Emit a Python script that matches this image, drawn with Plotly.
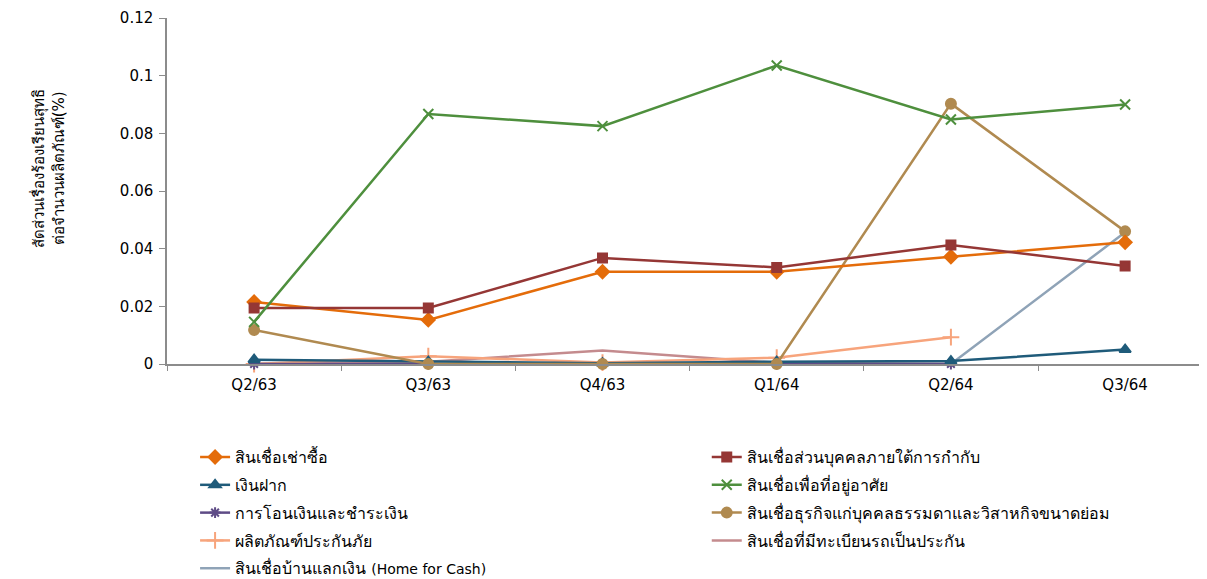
import plotly.graph_objects as go

quarters = ["Q2/63", "Q3/63", "Q4/63", "Q1/64", "Q2/64", "Q3/64"]

hire_purchase = [0.0215, 0.0153, 0.0320, 0.0320, 0.0372, 0.0422]
personal_loan = [0.0194, 0.0194, 0.0368, 0.0335, 0.0413, 0.0340]
deposit = [0.0015, 0.0008, 0.0003, 0.0008, 0.0010, 0.0050]
housing_loan = [0.0146, 0.0867, 0.0825, 0.1035, 0.0848, 0.0900]
transfer_payment = [0.0, 0.0, 0.0, 0.0, 0.0, None]
sme_loan = [0.0118, 0.0, 0.0, 0.0, 0.0903, 0.0460]
insurance = [0.0, 0.0027, 0.0005, 0.0022, 0.0093, None]
car_title_loan = [0.0, 0.0008, 0.0047, 0.0004, 0.0, None]
home_for_cash = [0.0, 0.0, 0.0, 0.0, 0.0, 0.0457]

names = [
    "สินเชื่อเช่าซื้อ",
    "สินเชื่อส่วนบุคคลภายใต้การกำกับ",
    "เงินฝาก",
    "สินเชื่อเพื่อที่อยู่อาศัย",
    "การโอนเงินและชำระเงิน",
    "สินเชื่อธุรกิจแก่บุคคลธรรมดาและวิสาหกิจขนาดย่อม",
    "ผลิตภัณฑ์ประกันภัย",
    "สินเชื่อที่มีทะเบียนรถเป็นประกัน",
    "สินเชื่อบ้านแลกเงิน (Home for Cash)",
]
series = [hire_purchase, personal_loan, deposit, housing_loan, transfer_payment,
          sme_loan, insurance, car_title_loan, home_for_cash]
colors = ["#E46C0A", "#953735", "#1F5B7A", "#4E8F3D", "#5E4B86",
          "#B08A50", "#F7A47C", "#C48B8E", "#8FA3B7"]
symbols = ["diamond", "square", "triangle-up", "x-thin", "asterisk-open",
           "circle", "cross-thin", None, None]
sizes = [10, 9, 10, 10, 9, 10, 12, 0, 0]
legend_ids = ["legend", "legend2"] * 5

FONT = "Verdana, 'DejaVu Sans', sans-serif"


def legend_label(name):
    # Latin part of the label is set smaller, as in the reference
    if "(" in name:
        thai, latin = name.split("(", 1)
        return f"{thai}<span style='font-size:14px'>({latin}</span>"
    return name


fig = go.Figure()
draw_order = [8, 7, 6, 4, 2, 5, 0, 1, 3]
for i in range(len(names)):
    sym = symbols[i]
    mode = "lines+markers" if sym else "lines"
    marker = dict(color=colors[i], size=sizes[i], symbol=sym,
                  line=dict(color=colors[i], width=2)) if sym else None
    fig.add_trace(go.Scatter(
        x=quarters, y=series[i], name=legend_label(names[i]), mode=mode,
        line=dict(color=colors[i], width=2.5),
        marker=marker,
        legend=legend_ids[i],
        legendgroup=f"g{i}",
        legendrank=i,
        connectgaps=False,
        cliponaxis=False,
    ))
fig.data = tuple(fig.data[i] for i in draw_order)

legend_common = dict(
    xanchor="left", yanchor="top", orientation="v",
    tracegroupgap=4, itemwidth=30,
    font=dict(size=16, family=FONT, color="#000000"), bgcolor="rgba(0,0,0,0)",
    traceorder="grouped",
)

fig.update_layout(
    width=1199, height=571,
    margin=dict(l=159, r=0, t=10, b=215, autoexpand=False),
    paper_bgcolor="white", plot_bgcolor="white",
    font=dict(family=FONT, size=14, color="#000000"),
    showlegend=True,
    legend=dict(x=0.027, y=-0.22, **legend_common),
    legend2=dict(x=0.519, y=-0.22, **legend_common),
)

fig.update_xaxes(
    type="category", categoryorder="array", categoryarray=quarters,
    range=[-0.5, 5.47],
    showline=True, linecolor="#8C8C8C", linewidth=1.5,
    ticks="outside", tickson="boundaries", ticklen=5, tickcolor="#8C8C8C",
    showgrid=False, zeroline=False, tickangle=0,
    tickfont=dict(size=15, family=FONT),
    ticklabelstandoff=6,
)
fig.update_yaxes(
    range=[0, 0.12], dtick=0.02, tick0=0,
    showline=True, linecolor="#8C8C8C", linewidth=1.5,
    ticks="outside", ticklen=6, tickcolor="#8C8C8C",
    showgrid=False, zeroline=False,
    tickfont=dict(size=15, family=FONT),
    ticklabelstandoff=3,
)

fig.add_annotation(
    text="สัดส่วนเรื่องร้องเรียนสุทธิ<br>ต่อจำนวนผลิตภัณฑ์(%)",
    xref="paper", yref="paper", x=-0.135, y=0.566,
    textangle=-90, showarrow=False, font=dict(size=15, family=FONT),
    align="center",
)

fig.write_html("out.html")
